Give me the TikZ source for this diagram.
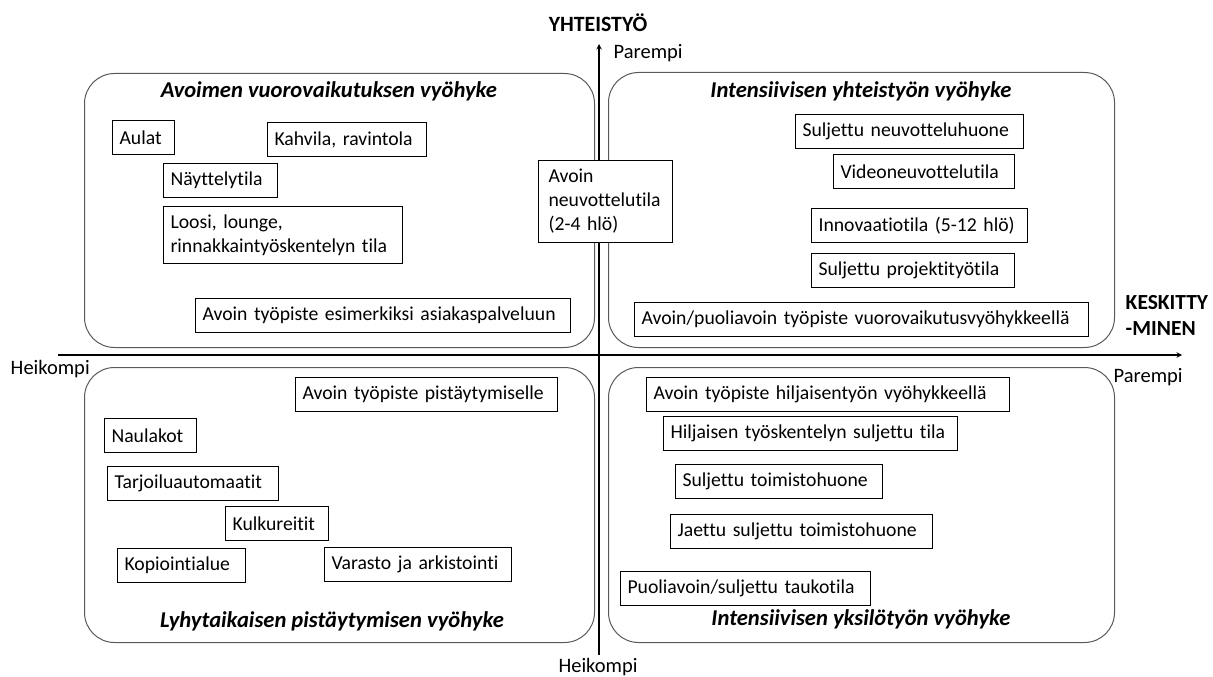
\documentclass[tikz,border=0pt]{standalone}
\usepackage{fontspec}
\setmainfont{Carlito}[Ligatures=CommonOff]
\usetikzlibrary{positioning}

\begin{document}
\begin{tikzpicture}[x=1pt,y=-1pt,>=stealth,thick,every node/.style={font=\fontsize{19.7pt}{24pt}\selectfont}]
\tikzstyle{zone}=[rectangle,draw=black!65,line width=1pt,rounded corners=30pt,anchor=north west,minimum width=506pt,minimum height=275pt]
\tikzstyle{room}=[rectangle,draw=black,fill=white,line width=1.1pt,anchor=north west,align=left,inner xsep=7pt,inner ysep=0pt,minimum height=34pt]
\tikzstyle{title}=[font=\fontsize{22.6pt}{27pt}\selectfont\bfseries\itshape]
\tikzstyle{lbl}=[font=\fontsize{20.5pt}{25pt}\selectfont]
\tikzstyle{axis}=[line width=1.4pt]

	\useasboundingbox (0,0) rectangle (1213,677);

	% vyohykkeet
	\node[zone,minimum width=510pt,minimum height=274pt] (z_1) at (84,73) {};
	\node[zone,minimum height=275pt] (z_2) at (608,72) {};
	\node[zone,minimum width=510pt] (z_3) at (84,367) {};
	\node[zone] (z_4) at (608,367) {};

	\node[title] (t_1) at (329,91) {Avoimen vuorovaikutuksen vyöhyke};
	\node[title] (t_2) at (861,91) {Intensiivisen yhteistyön vyöhyke};
	\node[title] (t_3) at (332,621) {Lyhytaikaisen pistäytymisen vyöhyke};
	\node[title] (t_4) at (861,619) {Intensiivisen yksilötyön vyöhyke};

	% akselit
	\coordinate (x_0) at (58,355);
	\coordinate (x_1) at (1182,355);
	\coordinate (y_0) at (599,655);
	\coordinate (y_1) at (599,44);
	\draw[axis,->] (x_0) -- (x_1);
	\draw[axis,->] (y_0) -- (y_1);

	\node[font=\fontsize{21.8pt}{26pt}\selectfont\bfseries] (l_y) at (598,23) {YHTEISTYÖ};
	\node[lbl,anchor=west] (p_y) at (610,53) {Parempi};
	\node[lbl] (h_y) at (598,667) {Heikompi};
	\node[lbl,anchor=west] (h_x) at (7,369) {Heikompi};
	\node[lbl,anchor=west] (p_x) at (1110,377) {Parempi};
	\node[anchor=west,align=left,font=\fontsize{21.5pt}{26pt}\selectfont\bfseries] (l_x) at (1122,315) {KESKITTY\\-MINEN};

	% tilat
	\node[room,text width=48pt] (a_1) at (112,120) {Aulat};
	\node[room,text width=145pt] (a_2) at (267,122) {Kahvila, ravintola};
	\node[room,text width=100pt] (a_3) at (163,163) {Näyttelytila};
	\node[room,text width=225pt,minimum height=57pt] (a_4) at (163,206) {Loosi, lounge,\\rinnakkaintyöskentelyn tila};
	\node[room,text width=361pt] (a_5) at (195,298) {Avoin työpiste esimerkiksi asiakaspalveluun};

	\node[room,text width=114pt,inner xsep=10pt,minimum height=82pt] (c_1) at (538,160) {Avoin\\neuvottelutila\\(2-4 hlö)};

	\node[room,text width=214pt] (b_1) at (795,114) {Suljettu neuvotteluhuone};
	\node[room,text width=167pt] (b_2) at (833,154) {Videoneuvottelutila};
	\node[room,text width=202pt] (b_3) at (811,208) {Innovaatiotila (5-12 hlö)};
	\node[room,text width=189pt] (b_4) at (811,253) {Suljettu projektityötila};
	\node[room,text width=440pt] (b_5) at (634,302) {Avoin/puoliavoin työpiste vuorovaikutusvyöhykkeellä};

	\node[room,text width=248pt] (d_1) at (295,377) {Avoin työpiste pistäytymiselle};
	\node[room,text width=78pt] (d_2) at (104,418) {Naulakot};
	\node[room,text width=157pt] (d_3) at (107,466) {Tarjoiluautomaatit};
	\node[room,text width=89pt] (d_4) at (225,506) {Kulkureitit};
	\node[room,text width=114pt] (d_5) at (117,548) {Kopiointialue};
	\node[room,text width=173pt] (d_6) at (324,547) {Varasto ja arkistointi};

	\node[room,text width=349pt] (e_1) at (646,377) {Avoin työpiste hiljaisentyön vyöhykkeellä};
	\node[room,text width=280pt] (e_2) at (663,416) {Hiljaisen työskentelyn suljettu tila};
	\node[room,text width=193pt] (e_3) at (675,464) {Suljettu toimistohuone};
	\node[room,text width=248pt] (e_4) at (670,514) {Jaettu suljettu toimistohuone};
	\node[room,text width=236pt] (e_5) at (620,571) {Puoliavoin/suljettu taukotila};
\end{tikzpicture}
\end{document}
